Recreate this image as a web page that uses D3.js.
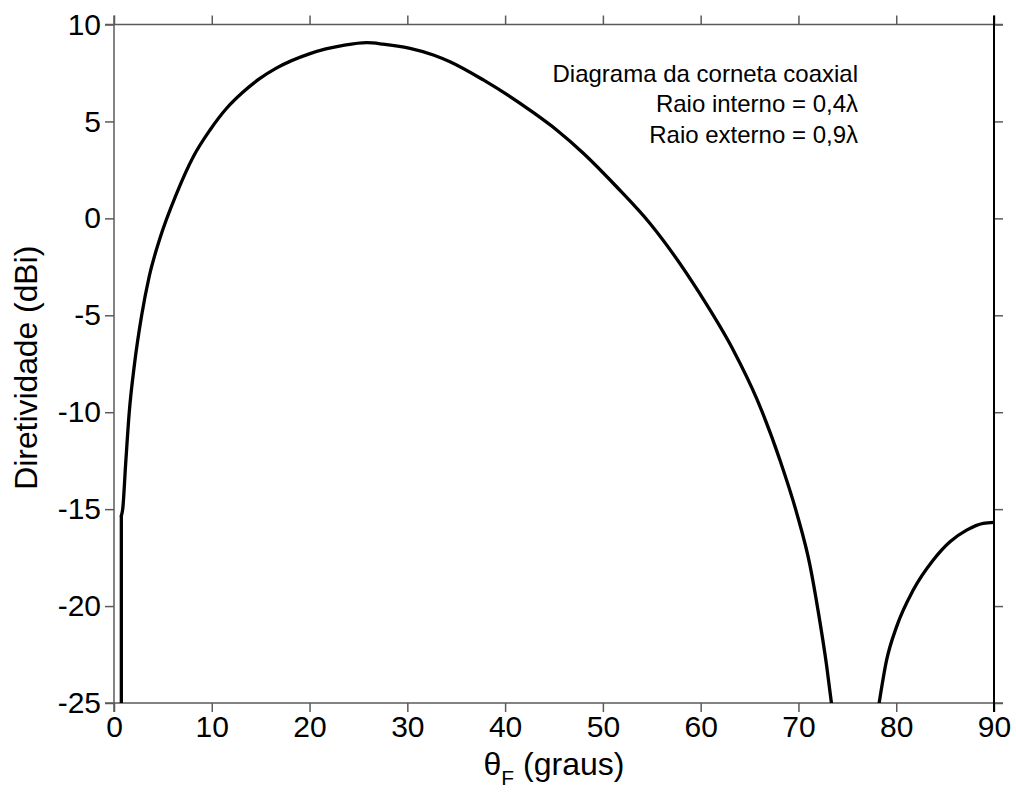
<!DOCTYPE html>
<html><head><meta charset="utf-8">
<script src="https://cdn.jsdelivr.net/npm/d3@7"></script>
<style>body{margin:0;background:#fff}svg{display:block}text{font-family:"Liberation Sans",Arial,sans-serif}</style>
</head><body>
<svg id="c" width="1016" height="797"></svg>
<script>
// data
const mainTheta = [0.75, 0.75, 0.89, 1.2, 1.56, 2.1, 2.83, 3.6, 4.7, 6.41, 8.11, 9.82, 11.52, 13.23, 14.93, 16.6, 20.05, 23.45, 25.84, 27.5, 30.27, 32.66, 34.36, 37.77, 42.9, 45.27, 48.0, 51.4, 54.8, 59.93, 63.34, 65.73, 68.1, 69.82, 71.18, 72.03, 72.89, 73.5];
const mainDbi   = [-25.5, -15.35, -15, -12.6, -10, -7.5, -5, -3.0, -1.03, 1.29, 3.18, 4.56, 5.68, 6.53, 7.22, 7.75, 8.5, 8.92, 9.06, 8.99, 8.77, 8.43, 8.08, 7.14, 5.45, 4.56, 3.36, 1.63, -0.25, -3.9, -6.8, -9.3, -12.46, -15.2, -17.9, -20.3, -23.1, -25.5];
const sideTheta = [78.1, 79.02, 80.04, 81.74, 83.79, 85.5, 87.2, 88.9, 90];
const sideDbi   = [-25.5, -22.78, -21.06, -19.17, -17.62, -16.68, -16.08, -15.73, -15.68];
const xTicks = [0, 10, 20, 30, 40, 50, 60, 70, 80, 90];
const yTicks = [-25, -20, -15, -10, -5, 0, 5, 10];
const annotation = ["Diagrama da corneta coaxial", "Raio interno = 0,4\u03bb", "Raio externo = 0,9\u03bb"];

const svg = d3.select("#c");
const L = 114, R = 994, T = 24.5, B = 703, TK = 9;
const x = d3.scaleLinear().domain([0, 90]).range([L, R]);
const y = d3.scaleLinear().domain([-25, 10]).range([B, T]);

svg.append("defs").append("clipPath").attr("id", "clip")
  .append("rect").attr("x", L).attr("y", T).attr("width", R - L).attr("height", B - T);

const grey = "#5a5a5a";
const fmt = d => String(d);
function styleAxis(g, showLabels) {
  g.select(".domain").remove();
  g.selectAll(".tick line").attr("stroke", grey).attr("stroke-width", 1.5);
  if (showLabels) g.selectAll(".tick text").attr("fill", "#000").attr("font-size", 30);
  else g.selectAll(".tick text").remove();
}
svg.append("g").attr("transform", `translate(0,${B})`)
  .call(d3.axisBottom(x).tickValues(xTicks).tickSize(TK).tickPadding(4).tickFormat(fmt))
  .call(g => styleAxis(g, true));
svg.append("g").attr("transform", `translate(0,${T})`)
  .call(d3.axisTop(x).tickValues(xTicks).tickSize(TK))
  .call(g => styleAxis(g, false));
svg.append("g").attr("transform", `translate(${L},0)`)
  .call(d3.axisLeft(y).tickValues(yTicks).tickSize(TK).tickPadding(4).tickFormat(fmt))
  .call(g => styleAxis(g, true));
svg.append("g").attr("transform", `translate(${R},0)`)
  .call(d3.axisRight(y).tickValues(yTicks).tickSize(TK))
  .call(g => styleAxis(g, false));

// frame lines extending past corners by tick length
const frame = svg.append("g");
frame.append("line").attr("x1", L - TK).attr("x2", R + TK).attr("y1", B).attr("y2", B).attr("stroke", grey).attr("stroke-width", 1.5);
frame.append("line").attr("x1", L - TK).attr("x2", R + TK).attr("y1", T).attr("y2", T).attr("stroke", grey).attr("stroke-width", 1.5);
frame.append("line").attr("x1", L).attr("x2", L).attr("y1", T - TK).attr("y2", B + TK).attr("stroke", grey).attr("stroke-width", 1.5);
frame.append("line").attr("x1", R).attr("x2", R).attr("y1", T - TK).attr("y2", B + TK).attr("stroke", "#000").attr("stroke-width", 2);

const mainPts = d3.zip(mainTheta, mainDbi);
const sidePts = d3.zip(sideTheta, sideDbi);
const straight = d3.line().x(d => x(d[0])).y(d => y(d[1]));
const smooth = d3.line().x(d => x(d[0])).y(d => y(d[1])).curve(d3.curveMonotoneX);
const plot = svg.append("g").attr("clip-path", "url(#clip)")
  .attr("fill", "none").attr("stroke", "#000").attr("stroke-width", 3.3)
  .attr("stroke-linejoin", "round").attr("stroke-linecap", "round");
// vertical rise at the start of the main lobe, then the smooth lobe
plot.append("path").attr("d", straight(mainPts.slice(0, 2)));
plot.append("path").attr("d", smooth(mainPts.slice(1)));
plot.append("path").attr("d", smooth(sidePts));

// annotation
const ann = svg.append("g").attr("font-size", 24).attr("text-anchor", "end");
const annY = [82, 112, 143];
annotation.forEach((t, i) => ann.append("text").attr("x", 858).attr("y", annY[i]).text(t));

// axis titles
const xt = svg.append("text").attr("x", (L + R) / 2).attr("y", 775).attr("text-anchor", "middle").attr("font-size", 32);
xt.append("tspan").text("\u03b8");
xt.append("tspan").attr("font-size", 21).attr("dy", 10).text("F");
xt.append("tspan").attr("dy", -10).text(" (graus)");

svg.append("text").attr("transform", `translate(37,${(T + B) / 2 + 4}) rotate(-90)`)
  .attr("text-anchor", "middle").attr("font-size", 31)
  .attr("textLength", 244).attr("lengthAdjust", "spacingAndGlyphs").text("Diretividade (dBi)");
</script>
</body></html>
